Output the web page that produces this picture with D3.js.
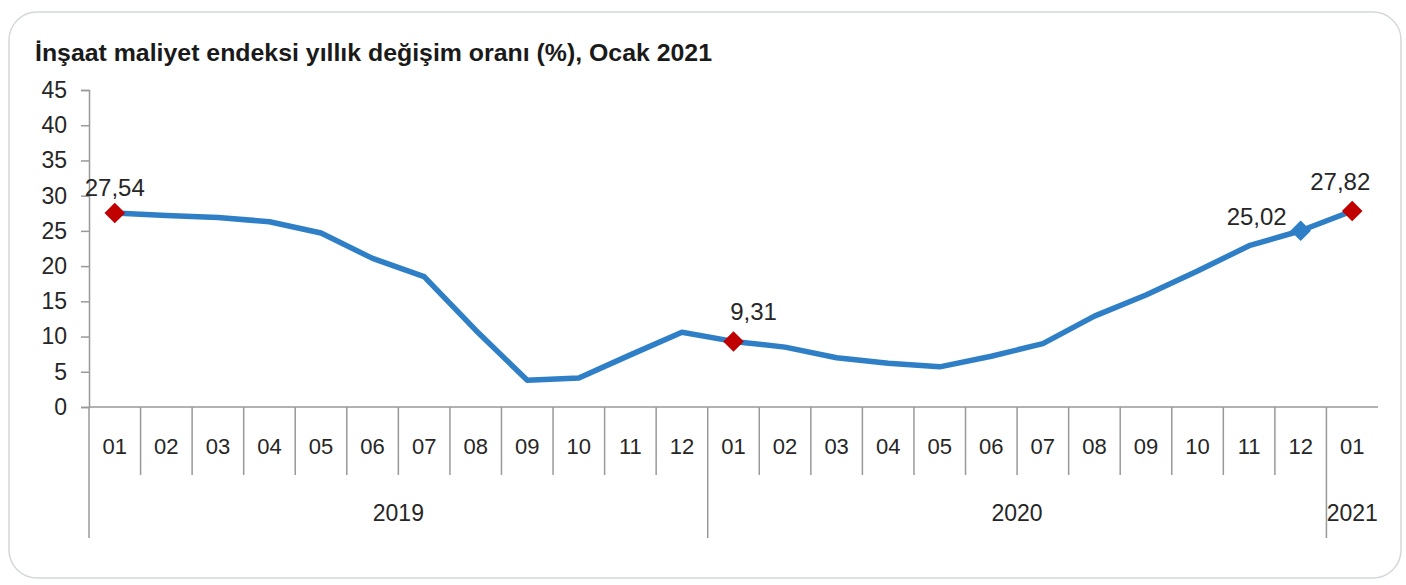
<!DOCTYPE html>
<html>
<head>
<meta charset="utf-8">
<script src="https://cdn.jsdelivr.net/npm/d3@7"></script>
<style>
  body { margin: 0; background: #ffffff; }
  svg { display: block; font-family: "Liberation Sans", Arial, sans-serif; }
</style>
</head>
<body>
<div id="chart"></div>
<script>
// Chart data
var title = "İnşaat maliyet endeksi yıllık değişim oranı (%), Ocak 2021";
var months = ["01","02","03","04","05","06","07","08","09","10","11","12",
              "01","02","03","04","05","06","07","08","09","10","11","12","01"];
var years = ["2019","2020","2021"];
var yearCounts = [12, 12, 1];
var values = [27.54, 27.2, 26.9, 26.3, 24.7, 21.1, 18.5, 10.9, 3.8, 4.1, 7.4, 10.6,
              9.31, 8.5, 7.0, 6.2, 5.7, 7.2, 9.0, 12.9, 15.9, 19.3, 22.9, 25.02, 27.82];
var yTicks = [0, 5, 10, 15, 20, 25, 30, 35, 40, 45];
var labelled = [0, 12, 23, 24];      // points with a value label
var redPoints = [0, 12, 24];         // red diamond markers

var width = 1406, height = 585;
var margin = { left: 89, right: 28, top: 90, bottom: 178 };
var textColor = '#262626';

var svg = d3.select('#chart')
    .append('svg')
    .attr('width', width)
    .attr('height', height);

// Rounded frame
svg.append('rect')
    .attr('x', 9).attr('y', 12)
    .attr('width', 1392).attr('height', 566)
    .attr('rx', 28).attr('ry', 28)
    .attr('fill', '#fff')
    .attr('stroke', '#d4d8dc')
    .attr('stroke-width', 1.5);

// Title
svg.append('text')
    .attr('x', 35).attr('y', 61)
    .attr('font-size', 24)
    .attr('font-weight', 'bold')
    .attr('fill', '#1a1a1a')
    .attr('textLength', 677)
    .attr('lengthAdjust', 'spacingAndGlyphs')
    .text(title);

var x = d3.scaleBand()
    .domain(d3.range(months.length))
    .range([margin.left, width - margin.right]);

var y = d3.scaleLinear()
    .domain([0, 45])
    .range([height - margin.bottom, margin.top]);

var axisColor = '#999999';

// Y axis
var yAxis = svg.append('g')
    .attr('transform', 'translate(' + margin.left + ',0)')
    .call(d3.axisLeft(y).tickValues(yTicks).tickSize(8).tickPadding(14));
yAxis.select('.domain').attr('stroke', axisColor).attr('stroke-width', 1.5);
yAxis.selectAll('.tick line').attr('stroke', axisColor).attr('stroke-width', 1.5);
yAxis.selectAll('.tick text')
    .attr('font-size', 23)
    .attr('font-family', '"Liberation Sans", Arial, sans-serif')
    .attr('fill', textColor);

// X axis line
var y0 = y(0);
svg.append('line')
    .attr('x1', margin.left).attr('x2', width - margin.right)
    .attr('y1', y0).attr('y2', y0)
    .attr('stroke', axisColor).attr('stroke-width', 1.5);

// Month separators and labels
var xg = svg.append('g');
d3.range(months.length).forEach(function (i) {
    var px = x(i);
    var isYearStart = (i === 0 || i === 12 || i === 24);
    xg.append('line')
        .attr('x1', px).attr('x2', px)
        .attr('y1', y0).attr('y2', isYearStart ? y0 + 131 : y0 + 68)
        .attr('stroke', axisColor).attr('stroke-width', 1.5);
});

xg.selectAll('.month')
    .data(months)
    .enter()
    .append('text')
    .attr('class', 'month')
    .attr('x', (d, i) => x(i) + x.bandwidth() / 2)
    .attr('y', y0 + 47)
    .attr('text-anchor', 'middle')
    .attr('font-size', 22)
    .attr('fill', textColor)
    .text(d => d);

// Year labels
var start = 0;
years.forEach(function (yr, k) {
    var x1 = x(start);
    var x2 = x(start + yearCounts[k] - 1) + x.bandwidth();
    xg.append('text')
        .attr('x', (x1 + x2) / 2)
        .attr('y', y0 + 114)
        .attr('text-anchor', 'middle')
        .attr('font-size', 23)
        .attr('fill', textColor)
        .text(yr);
    start += yearCounts[k];
});

// Line
var line = d3.line()
    .x((d, i) => x(i) + x.bandwidth() / 2)
    .y(d => y(d));

svg.append('path')
    .datum(values)
    .attr('d', line)
    .attr('fill', 'none')
    .attr('stroke', '#2e7fc6')
    .attr('stroke-width', 5.5)
    .attr('stroke-linejoin', 'round');

// Markers
var diamond = d3.symbol().type(d3.symbolDiamond2).size(270);
svg.selectAll('.marker')
    .data(labelled)
    .enter()
    .append('path')
    .attr('class', 'marker')
    .attr('d', diamond)
    .attr('transform', d => 'translate(' + (x(d) + x.bandwidth() / 2) + ',' + y(values[d]) + ')')
    .attr('fill', d => redPoints.indexOf(d) >= 0 ? '#c00000' : '#2e7fc6');

// Value labels
var labelOffsets = { 0: [0, -17], 12: [20, -21], 23: [-44, -6], 24: [-12, -21] };
svg.selectAll('.vlabel')
    .data(labelled)
    .enter()
    .append('text')
    .attr('class', 'vlabel')
    .attr('x', d => x(d) + x.bandwidth() / 2 + labelOffsets[d][0])
    .attr('y', d => y(values[d]) + labelOffsets[d][1])
    .attr('text-anchor', 'middle')
    .attr('font-size', 24)
    .attr('fill', textColor)
    .text(d => d3.format('.2f')(values[d]).replace('.', ','));
</script>
</body>
</html>
